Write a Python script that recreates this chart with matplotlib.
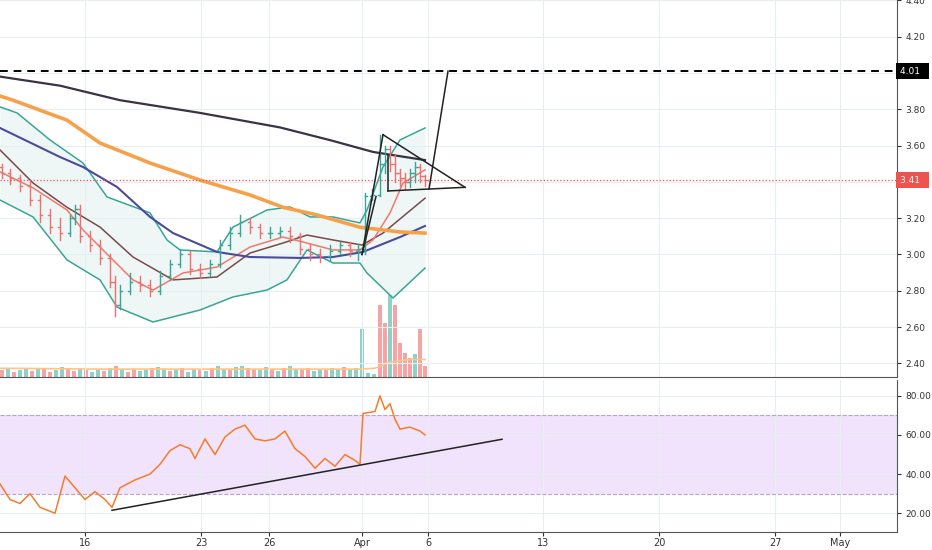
import numpy as np
import matplotlib
matplotlib.use("Agg")
import matplotlib.pyplot as plt

# x is in chart bar-position units (0..897 across the pane)
xt = [85, 201, 269, 362, 428, 543, 659, 775, 840]
xt_lab = ['16', '23', '26', 'Apr', '6', '13', '20', '27', 'May']

# moving averages / bands: (x, price)
sma_dark_x = [0, 60, 120, 200, 280, 330, 373, 390, 425]
sma_dark = [3.98, 3.93, 3.85, 3.78, 3.70, 3.63, 3.565, 3.55, 3.52]
sma_or_x = [0, 13, 67, 100, 150, 200, 250, 283, 317, 360, 400, 425]
sma_or = [3.873, 3.85, 3.74, 3.614, 3.504, 3.41, 3.328, 3.26, 3.218, 3.15, 3.124, 3.118]
sma_bl_x = [0, 60, 83, 117, 150, 173, 217, 250, 300, 333, 363, 400, 425]
sma_bl = [3.697, 3.537, 3.482, 3.372, 3.207, 3.118, 3.014, 2.986, 2.981, 2.986, 3.014, 3.096, 3.157]
bb_mid_x = [0, 33, 67, 100, 133, 173, 217, 250, 283, 307, 333, 362, 383, 425]
bb_mid = [3.576, 3.394, 3.26, 3.151, 2.986, 2.86, 2.876, 3.008, 3.063, 3.107, 3.08, 3.052, 3.118, 3.31]
ema_x = [0, 33, 67, 83, 110, 133, 153, 183, 217, 250, 283, 307, 333, 360, 373, 390, 403, 425]
ema = [3.455, 3.367, 3.245, 3.135, 2.986, 2.86, 2.804, 2.898, 2.931, 3.041, 3.096, 3.063, 3.025, 3.025, 3.08, 3.229, 3.394, 3.466]
bb_up_x = [0, 17, 50, 83, 107, 150, 167, 180, 217, 233, 267, 290, 310, 333, 360, 367, 383, 400, 425]
bb_up = [3.813, 3.78, 3.631, 3.504, 3.317, 3.229, 3.08, 3.025, 3.014, 3.151, 3.245, 3.262, 3.207, 3.207, 3.174, 3.245, 3.482, 3.631, 3.697]
bb_lo_x = [0, 33, 67, 100, 117, 153, 200, 233, 267, 287, 307, 333, 360, 367, 393, 425]
bb_lo = [3.30, 3.207, 2.97, 2.86, 2.71, 2.628, 2.694, 2.766, 2.804, 2.86, 3.025, 2.953, 2.953, 2.898, 2.76, 2.925]

# OHLC bars
bar_x = [2, 10, 20, 30, 40, 50, 60, 70, 75, 80, 90, 100, 110, 115, 120, 130, 140, 150, 160, 170,
         180, 190, 200, 210, 220, 230, 240, 250, 260, 270, 280, 290, 300, 310, 320, 330, 340, 350,
         358, 365, 372, 380, 385, 390, 395, 400, 405, 410, 415, 420, 425]
close = [3.45, 3.42, 3.38, 3.30, 3.22, 3.15, 3.12, 3.20, 3.25, 3.10, 3.05, 2.98, 2.85, 2.72, 2.80,
         2.85, 2.83, 2.80, 2.88, 2.95, 3.00, 2.92, 2.90, 2.95, 3.05, 3.12, 3.18, 3.15, 3.12, 3.12,
         3.13, 3.10, 3.03, 3.00, 2.99, 3.02, 3.05, 3.02, 3.03, 3.32, 3.33, 3.50, 3.58, 3.50, 3.45,
         3.42, 3.40, 3.45, 3.48, 3.43, 3.41]
opn = [3.48, 3.45, 3.42, 3.38, 3.30, 3.22, 3.15, 3.12, 3.20, 3.25, 3.10, 3.05, 2.98, 2.85, 2.72,
       2.80, 2.85, 2.83, 2.80, 2.88, 2.95, 3.00, 2.92, 2.90, 2.95, 3.05, 3.12, 3.18, 3.15, 3.12,
       3.12, 3.13, 3.10, 3.03, 3.00, 2.99, 3.02, 3.05, 3.02, 3.03, 3.32, 3.33, 3.50, 3.58, 3.50,
       3.45, 3.42, 3.40, 3.45, 3.48, 3.43]
high = [3.50, 3.47, 3.44, 3.40, 3.33, 3.25, 3.20, 3.22, 3.27, 3.27, 3.13, 3.08, 3.00, 2.88, 2.83,
        2.90, 2.88, 2.86, 2.91, 2.97, 3.03, 3.02, 2.95, 2.97, 3.08, 3.15, 3.22, 3.20, 3.17, 3.15,
        3.15, 3.15, 3.12, 3.06, 3.03, 3.05, 3.07, 3.07, 3.06, 3.34, 3.36, 3.66, 3.60, 3.60, 3.55,
        3.47, 3.45, 3.47, 3.51, 3.50, 3.44]
low = [3.42, 3.39, 3.35, 3.27, 3.18, 3.12, 3.08, 3.10, 3.17, 3.07, 3.02, 2.95, 2.82, 2.66, 2.70,
       2.78, 2.80, 2.77, 2.78, 2.86, 2.93, 2.89, 2.87, 2.88, 2.93, 3.03, 3.10, 3.12, 3.09, 3.09,
       3.10, 3.07, 3.00, 2.97, 2.96, 2.97, 3.00, 2.99, 2.97, 3.00, 3.30, 3.32, 3.45, 3.46, 3.40,
       3.38, 3.36, 3.37, 3.40, 3.40, 3.38]

# volume (arbitrary units) and its moving average
vol_x = [2, 8, 14, 20, 26, 32, 38, 44, 50, 56, 62, 68, 74, 80, 86, 92, 98, 104, 110, 116, 122, 128,
         134, 140, 146, 152, 158, 164, 170, 176, 182, 188, 194, 200, 206, 212, 218, 224, 230, 236,
         242, 248, 254, 260, 266, 272, 278, 284, 290, 296, 302, 308, 314, 320, 326, 332, 338, 344,
         350, 356, 362, 368, 374, 380, 385, 390, 395, 400, 405, 410, 415, 420, 425]
vol = [8, 9, 6, 8, 10, 7, 9, 10, 6, 8, 11, 9, 7, 10, 8, 6, 9, 7, 10, 12, 8, 6, 9, 7, 8, 10, 11, 9,
       7, 8, 10, 6, 9, 8, 7, 10, 12, 9, 8, 11, 13, 10, 9, 8, 11, 9, 7, 10, 12, 9, 8, 10, 7, 9, 8, 10,
       9, 11, 9, 10, 55, 4, 3, 82, 62, 93, 82, 39, 27, 22, 26, 55, 13]
vol_up = [0, 1, 0, 1, 1, 0, 1, 0, 0, 1, 1, 0, 0, 1, 0, 1, 1, 0, 1, 0, 1, 0, 0, 1, 1, 0, 1, 1, 0, 1,
          0, 1, 1, 0, 1, 0, 1, 1, 0, 1, 1, 0, 0, 1, 1, 0, 1, 0, 1, 1, 0, 0, 1, 1, 0, 1, 1, 0, 1, 1,
          1, 1, 1, 0, 0, 1, 0, 0, 0, 0, 1, 0, 0]
vma_x = [0, 100, 200, 300, 360, 375, 390, 410, 425]
vma = [10, 9, 9, 9, 9, 10, 17, 20, 20]

# RSI
rsi_x = [0, 10, 20, 30, 40, 55, 65, 75, 85, 95, 105, 112, 120, 135, 150, 160, 170, 180, 190, 195,
         205, 215, 225, 235, 245, 255, 265, 275, 285, 295, 305, 315, 325, 335, 345, 355, 360, 363,
         375, 380, 385, 390, 395, 400, 410, 420, 425]
rsi = [35, 27, 25, 30, 23, 20, 39, 33, 27, 31, 27, 23, 33, 37, 40, 45, 52, 55, 53, 48, 58, 50, 59,
       63, 65, 58, 57, 58, 62, 53, 49, 43, 48, 44, 50, 47, 45, 71, 72, 80, 73, 76, 68, 63, 64, 62, 60]

last_price = 3.41
target = 4.01

fig = plt.figure(figsize=(9.32, 5.5), dpi=100)
ax = fig.add_axes([0, 1 - 377 / 550, 897 / 932, 377 / 550])
ar = fig.add_axes([0, 1 - 532 / 550, 897 / 932, 152 / 550], sharex=ax)
grid_c = '#e9eef3'

# volume on hidden twin axis (created first so the price axis keeps right-side ticks)
av = ax.twinx()
av.set_ylim(0, 430)
av.axis('off')
av.bar(vol_x, vol, width=4.5, color=['#8fd1c6' if u else '#f7a3a3' for u in vol_up], zorder=1)
av.plot(vma_x, vma, color='#fbc58a', lw=1.2)

ax.set_xlim(0, 897)
ax.set_ylim(2.325, 4.402)
ar.set_ylim(10.4, 88.1)
for a in (ax, ar):
    a.set_xticks(xt)
    a.grid(True, color=grid_c, lw=0.8)
    a.set_axisbelow(True)
    a.yaxis.tick_right()
    a.tick_params(axis='y', length=3, labelsize=6.5, colors='#333', pad=3)
    for s in ('top', 'left'):
        a.spines[s].set_visible(False)
    a.spines['right'].set_visible(True)
    a.spines['right'].set_color('#555')
    a.spines['bottom'].set_color('#555')
ax.tick_params(axis='x', length=0, labelbottom=False)
ar.tick_params(axis='x', length=3, labelsize=7, colors='#333', pad=1)
ar.set_xticklabels(xt_lab)
ax.set_yticks(np.arange(2.4, 4.41, 0.2))
ax.set_yticklabels([f'{v:.2f}' for v in np.arange(2.4, 4.41, 0.2)])
ar.set_yticks([20, 40, 60, 80])
ar.set_yticklabels(['20.00', '40.00', '60.00', '80.00'])
ax.set_zorder(av.get_zorder() + 1)
ax.patch.set_visible(False)

# bollinger fill and lines
grid_bx = np.linspace(0, 425, 200)
ax.fill_between(grid_bx, np.interp(grid_bx, bb_lo_x, bb_lo), np.interp(grid_bx, bb_up_x, bb_up),
                color='#dff1ee', alpha=0.5, lw=0, zorder=2)
ax.plot(bb_up_x, bb_up, color='#3aa597', lw=1.1, zorder=3)
ax.plot(bb_lo_x, bb_lo, color='#3aa597', lw=1.1, zorder=3)
ax.plot(bb_mid_x, bb_mid, color='#7a4a4a', lw=1.1, zorder=3)
ax.plot(ema_x, ema, color='#f07a6a', lw=1.1, zorder=3)
ax.plot(sma_bl_x, sma_bl, color='#4b4b9a', lw=1.5, zorder=3)
ax.plot(sma_or_x, sma_or, color='#f6a14a', lw=2.6, zorder=3)
ax.plot(sma_dark_x, sma_dark, color='#3b3345', lw=1.6, zorder=3)

# OHLC bars
for x, o, h, l, c in zip(bar_x, opn, high, low, close):
    col = '#3aa597' if c >= o else '#ef6f6f'
    ax.plot([x, x], [l, h], color=col, lw=1, zorder=4)
    ax.plot([x - 2, x], [o, o], color=col, lw=1, zorder=4)
    ax.plot([x, x + 2], [c, c], color=col, lw=1, zorder=4)

# level lines
ax.axhline(target, color='black', ls=(0, (4, 3)), lw=1.4, zorder=5)
ax.axhline(last_price, color='#ef5350', ls=':', lw=0.9, zorder=5)

# hand drawn pattern
draw = [((362, 3.00), (383, 3.66)), ((383, 3.66), (465, 3.37)), ((388, 3.35), (465, 3.37)),
        ((388, 3.35), (388, 3.55)), ((362, 3.00), (376, 3.32)), ((429, 3.36), (448, 4.01))]
for (x0, y0), (x1, y1) in draw:
    ax.plot([x0, x1], [y0, y1], color='#222', lw=1.1, zorder=6)

# price labels on axis, drawn on the figure so they sit above the tick labels
for v, fc in ((target, 'black'), (last_price, '#ef5350')):
    fy = (1 - 377 / 550) + (v - 2.325) / (4.402 - 2.325) * 377 / 550
    fig.text(900 / 932, fy, f'{v:.2f}  ', ha='left', va='center', fontsize=6.5, color='white',
             bbox=dict(boxstyle='square,pad=0.4', fc=fc, ec='none'), zorder=10)

# RSI panel
ar.axhspan(30, 70, color='#f0e3fb', lw=0, zorder=0)
ar.axhline(70, color='#b9a3c9', ls='--', lw=0.8)
ar.axhline(30, color='#b9a3c9', ls='--', lw=0.8)
ar.plot(rsi_x, rsi, color='#f57c2a', lw=1.1, zorder=3)
ar.plot([112, 502], [21.5, 57.8], color='#222', lw=1.1, zorder=4)

fig.savefig('out.png', dpi=100)
